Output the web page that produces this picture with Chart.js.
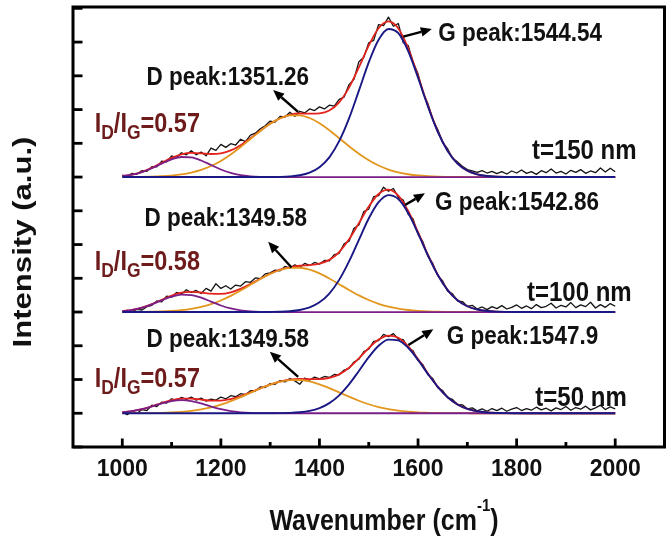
<!DOCTYPE html>
<html>
<head>
<meta charset="utf-8">
<style>
html,body{margin:0;padding:0;background:#ffffff;}
#wrap{width:666px;height:545px;position:relative;overflow:hidden;}
canvas{display:block;}
</style>
<script src="https://cdn.jsdelivr.net/npm/chart.js@4.4.1/dist/chart.umd.min.js"></script>
</head>
<body>
<div id="wrap"><canvas id="c" width="666" height="545"></canvas></div>
<script>
// ---------- data ----------
const rawWavenumbers = [
1000,1010,1020,1030,1040,1050,1060,1070,1080,1090,
1100,1110,1120,1130,1140,1150,1160,1170,1180,1190,
1200,1210,1220,1230,1240,1250,1260,1270,1280,1290,
1300,1310,1320,1330,1340,1350,1360,1370,1380,1390,
1400,1410,1420,1430,1440,1450,1460,1470,1480,1490,
1500,1510,1520,1530,1540,1550,1560,1570,1580,1590,
1600,1610,1620,1630,1640,1650,1660,1670,1680,1690,
1700,1710,1720,1730,1740,1750,1760,1770,1780,1790,
1800,1810,1820,1830,1840,1850,1860,1870,1880,1890,
1900,1910,1920,1930,1940,1950,1960,1970,1980,1990,
2000];
const fitWavenumbers = [
1000,1020,1040,1060,1080,1100,1120,1140,1160,1180,
1200,1220,1240,1260,1280,1300,1320,1340,1360,1380,
1400,1420,1440,1460,1480,1500,1520,1540,1560,1580,
1600,1620,1640,1660,1680,1700,1720,1740,1760,1780,
1800,1820,1840,1860,1880,1900,1920,1940,1960,1980,
2000];

// vertical offsets of the stacked spectra (a.u.)
const baselineOffsets = [8, 4, 1];

// measured spectra (intensity above own baseline)
const measured150 = [
.06,.03,.11,.09,.19,.17,.31,.30,.47,.45,
.63,.58,.72,.66,.78,.66,.74,.63,.86,.79,
.97,.88,.99,.95,1.12,1.05,1.24,1.30,1.43,1.52,
1.66,1.63,1.80,1.78,1.92,1.80,1.95,1.90,2.02,1.97,
2.08,2.02,2.13,2.10,2.30,2.37,2.74,2.90,3.42,3.55,
3.98,4.05,4.52,4.49,4.74,4.47,4.55,3.98,3.90,3.40,
3.06,2.50,2.18,1.70,1.41,1.02,.84,.55,.45,.32,
.22,.18,.14,.19,.12,.17,.10,.16,.09,.18,
.12,.21,.11,.16,.08,.19,.13,.24,.12,.17,
.09,.20,.14,.22,.11,.18,.13,.27,.15,.26,
.16];
const measured100 = [
.00,.05,.02,.08,.06,.16,.20,.33,.30,.47,
.44,.58,.53,.66,.58,.64,.55,.70,.62,.84,
.70,.78,.68,.80,.77,.90,.88,1.01,.99,1.13,
1.16,1.24,1.22,1.35,1.30,1.40,1.33,1.44,1.38,1.47,
1.42,1.53,1.52,1.70,1.74,2.02,2.10,2.48,2.58,2.98,
3.05,3.42,3.45,3.70,3.58,3.66,3.40,3.32,2.90,2.76,
2.30,2.08,1.65,1.44,1.08,.92,.62,.54,.33,.31,
.17,.20,.09,.15,.07,.16,.10,.19,.09,.14,
.21,.11,.18,.10,.22,.13,.17,.26,.12,.20,
.15,.28,.13,.21,.16,.29,.12,.22,.14,.25,
.17];
const measured50 = [
.03,-.04,.06,.00,.11,.08,.24,.20,.33,.30,
.43,.38,.47,.41,.48,.39,.45,.36,.42,.39,
.48,.43,.52,.49,.58,.55,.67,.66,.78,.76,
.88,.86,.97,.93,1.03,.96,.86,1.04,.98,1.07,
1.02,1.09,1.06,1.15,1.14,1.28,1.33,1.52,1.60,1.83,
1.90,2.13,2.15,2.34,2.27,2.36,2.20,2.18,1.94,1.85,
1.56,1.44,1.14,1.03,.76,.67,.46,.41,.26,.25,
.13,.16,.07,.13,.06,.14,.08,.15,.06,.12,
.17,.08,.14,.09,.18,.10,.15,.07,.16,.11,
.20,.09,.17,.12,.21,.10,.16,.24,.11,.19,
.13];

// fitted components, t = 150 nm
const lowPeak150 = [.03,.072,.148,.262,.399,.524,.595,.581,.491,.357,.224,.121,.057,.023,.008,.002,
0,0,0,0,0,0,0,0,0,0,0,0,0,0,0,0,0,0,0,0,0,0,0,0,0,0,0,0,0,0,0,0,0,0,0];
const dPeak150 = [.001,.003,.006,.012,.024,.045,.079,.133,.213,.327,
.478,.668,.889,1.128,1.366,1.578,1.738,1.827,1.831,1.751,
1.597,1.389,1.152,.912,.689,.496,.341,.223,.139,.083,
.047,.026,.013,.007,.003,.001,0,0,0,0,0,0,0,0,0,0,0,0,0,0,0];
const gPeak150 = [0,0,0,0,0,0,0,0,0,0,0,0,0,0,0,
.002,.006,.019,.052,.130,.292,.585,1.063,1.738,2.561,3.40,4.07,4.389,4.265,3.735,
2.946,2.097,1.343,.776,.403,.189,.08,.03,.01,.003,
0,0,0,0,0,0,0,0,0,0,0];
const fitSum150 = [.031,.075,.154,.274,.423,.569,.674,.714,.704,.684,
.702,.789,.946,1.151,1.374,1.582,1.744,1.846,1.883,1.881,
1.889,1.974,2.215,2.65,3.25,3.896,4.411,4.612,4.404,3.818,
2.993,2.123,1.356,.783,.406,.19,.08,.03,.01,.003,
0,0,0,0,0,0,0,0,0,0,0];

// fitted components, t = 100 nm
const lowPeak100 = [.026,.062,.128,.227,.346,.454,.516,.504,.426,.310,.194,.105,.049,.020,.007,.002,
0,0,0,0,0,0,0,0,0,0,0,0,0,0,0,0,0,0,0,0,0,0,0,0,0,0,0,0,0,0,0,0,0,0,0];
const dPeak100 = [.001,.002,.004,.009,.017,.032,.057,.095,.153,.234,
.343,.479,.637,.809,.979,1.131,1.246,1.310,1.313,1.255,
1.145,.996,.826,.654,.494,.356,.244,.160,.100,.060,
.034,.019,.009,.005,.002,.001,0,0,0,0,0,0,0,0,0,0,0,0,0,0,0];
const gPeak100 = [0,0,0,0,0,0,0,0,0,0,0,0,0,0,0,
.003,.008,.023,.059,.136,.287,.549,.953,1.50,2.141,2.772,3.255,3.466,3.348,2.933,
2.331,1.680,1.098,.651,.350,.171,.075,.030,.011,.004,
.001,0,0,0,0,0,0,0,0,0,0];
const fitSum100 = [.027,.064,.132,.236,.363,.486,.573,.599,.579,.544,
.537,.584,.686,.829,.986,1.136,1.254,1.333,1.372,1.391,
1.432,1.545,1.779,2.154,2.635,3.128,3.499,3.626,3.448,2.993,
2.365,1.699,1.107,.656,.352,.172,.075,.030,.011,.004,
.001,0,0,0,0,0,0,0,0,0,0];

// fitted components, t = 50 nm
const lowPeak50 = [.027,.061,.119,.200,.290,.362,.390,.362,.290,.200,.119,.061,.027,.010,.003,.001,
0,0,0,0,0,0,0,0,0,0,0,0,0,0,0,0,0,0,0,0,0,0,0,0,0,0,0,0,0,0,0,0,0,0,0];
const dPeak50 = [.001,.002,.003,.006,.013,.024,.043,.072,.115,.176,
.257,.359,.478,.607,.735,.849,.935,.983,.985,.942,
.859,.747,.620,.491,.371,.267,.183,.120,.075,.045,
.025,.014,.007,.004,.002,.001,0,0,0,0,0,0,0,0,0,0,0,0,0,0,0];
const gPeak50 = [0,0,0,0,0,0,0,0,0,0,0,0,0,0,0,
.001,.004,.011,.030,.071,.152,.299,.531,.857,1.253,1.663,2.001,2.183,2.161,1.940,
1.580,1.166,.781,.475,.261,.131,.059,.024,.009,.003,
.001,0,0,0,0,0,0,0,0,0,0];
const fitSum50 = [.028,.063,.122,.206,.303,.386,.433,.434,.405,.376,
.376,.420,.505,.617,.738,.851,.939,.994,1.015,1.013,
1.011,1.046,1.151,1.348,1.624,1.930,2.184,2.303,2.236,1.985,
1.605,1.180,.788,.479,.263,.132,.059,.024,.009,.003,
.001,0,0,0,0,0,0,0,0,0,0];

// tick values / labels
const xTickValues = [1000,1200,1400,1600,1800,2000];
const xMinorTickValues = [1100,1300,1500,1700,1900];
const yTickValues = [0,1,2,3,4,5,6,7,8,9,10,11,12,13];

// annotation texts
const dPeakLabels = ['D peak:1351.26','D peak:1349.58','D peak:1349.58'];
const gPeakLabels = ['G peak:1544.54','G peak:1542.86','G peak:1547.9'];
const ratioValues = ['0.57','0.58','0.57'];
const thicknessLabels = ['t=150 nm','t=100 nm','t=50 nm'];
const xTitle = 'Wavenumber (cm';
const xTitleSup = '-1';
const yTitle = 'Intensity (a.u.)';

// ---------- layout of annotations (data coordinates) ----------
const annotationLayout = [
  {d:[1049,11.0], ratio:[944,9.62], dArrow:[[1356.6,9.93],[1306,10.58]], g:[1641,12.3], gArrow:[[1570,12.16],[1628,12.39]], t:[1831,8.83]},
  {d:[1045,6.82], ratio:[944,5.53], dArrow:[[1343.4,5.32],[1296,6.08]], g:[1634.6,7.29], gArrow:[[1573.6,7.17],[1614,7.52]], t:[1821,4.62]},
  {d:[1049,3.23], ratio:[944,2.06], dArrow:[[1356.8,2.08],[1299.3,2.82]], g:[1658.4,3.32], gArrow:[[1580.4,3.02],[1631,3.49]], t:[1838,1.51]}
];

// ---------- build datasets ----------
const FONT = "'Liberation Sans', Arial, sans-serif";
const STRETCH = 1.15;
const COLORS = {measured:'#141414', sum:'#e3231c', d:'#e3961e', low:'#7a1f88', g:'#1a1884'};
function pts(xs, ys, off){ return xs.map((x,i)=>({x:x, y:ys[i]+off})); }
const groups = [
  {m:measured150, s:fitSum150, d:dPeak150, l:lowPeak150, g:gPeak150},
  {m:measured100, s:fitSum100, d:dPeak100, l:lowPeak100, g:gPeak100},
  {m:measured50,  s:fitSum50,  d:dPeak50,  l:lowPeak50,  g:gPeak50}
];
const datasets = [];
groups.forEach((gr, k)=>{
  const off = baselineOffsets[k];
  datasets.push({label:thicknessLabels[k]+' measured', data:pts(rawWavenumbers, gr.m, off), borderColor:COLORS.measured, borderWidth:1.3, tension:0, order:5});
  datasets.push({label:thicknessLabels[k]+' fit', data:pts(fitWavenumbers, gr.s, off), borderColor:COLORS.sum, borderWidth:1.8, cubicInterpolationMode:'monotone', order:4});
  datasets.push({label:thicknessLabels[k]+' D', data:pts(fitWavenumbers, gr.d, off), borderColor:COLORS.d, borderWidth:1.8, cubicInterpolationMode:'monotone', order:3});
  datasets.push({label:thicknessLabels[k]+' low', data:pts(fitWavenumbers, gr.l, off), borderColor:COLORS.low, borderWidth:1.8, cubicInterpolationMode:'monotone', order:2});
  datasets.push({label:thicknessLabels[k]+' G', data:pts(fitWavenumbers, gr.g, off), borderColor:COLORS.g, borderWidth:1.9, cubicInterpolationMode:'monotone', order:1});
});

// ---------- decorations plugin ----------
function arrow(ctx, x1, y1, x2, y2){
  const ang = Math.atan2(y2-y1, x2-x1), L = 11, W = 4.8;
  const bx = x2 - L*Math.cos(ang), by = y2 - L*Math.sin(ang);
  ctx.beginPath(); ctx.moveTo(x1,y1); ctx.lineTo(bx,by); ctx.lineWidth = 2.4; ctx.stroke();
  ctx.beginPath(); ctx.moveTo(x2,y2);
  ctx.lineTo(bx + W*Math.sin(ang), by - W*Math.cos(ang));
  ctx.lineTo(bx - W*Math.sin(ang), by + W*Math.cos(ang));
  ctx.closePath(); ctx.fill();
}
function textAt(ctx, txt, px, py, size, color){
  ctx.save();
  ctx.font = 'bold ' + size + 'px ' + FONT; ctx.fillStyle = color;
  ctx.textAlign = 'left'; ctx.textBaseline = 'alphabetic';
  ctx.translate(px, py); ctx.scale(1, STRETCH);
  ctx.fillText(txt, 0, size*0.36);
  ctx.restore();
}
function ratioAt(ctx, val, px, py){
  const main = 23.5, sub = 17.5;
  const segs = [['I',main,0],['D',sub,7],['/I',main,0],['G',sub,7],['='+val,main,0]];
  ctx.save();
  ctx.translate(px, py); ctx.scale(1, STRETCH);
  let cx = 0;
  ctx.fillStyle = '#6e1b1b'; ctx.textAlign = 'left'; ctx.textBaseline = 'alphabetic';
  segs.forEach(s=>{ ctx.font = 'bold ' + s[1] + 'px ' + FONT; ctx.fillText(s[0], cx, main*0.36 + s[2]/STRETCH); cx += ctx.measureText(s[0]).width; });
  ctx.restore();
}
const decor = {
  id:'decor',
  afterDatasetsDraw(chart){
    const ctx = chart.ctx, a = chart.chartArea, xs = chart.scales.x, ys = chart.scales.y;
    ctx.save();
    ctx.strokeStyle = '#000'; ctx.fillStyle = '#000';
    // frame
    ctx.lineWidth = 3;
    ctx.strokeRect(a.left, a.top, a.right - a.left, a.bottom - a.top);
    // ticks (inward)
    ctx.lineWidth = 2.8;
    xTickValues.forEach(v=>{ const p = xs.getPixelForValue(v); ctx.beginPath(); ctx.moveTo(p, a.bottom); ctx.lineTo(p, a.bottom - 8.5); ctx.stroke(); });
    xMinorTickValues.forEach(v=>{ const p = xs.getPixelForValue(v); ctx.beginPath(); ctx.moveTo(p, a.bottom); ctx.lineTo(p, a.bottom - 5); ctx.stroke(); });
    yTickValues.forEach(v=>{ const p = ys.getPixelForValue(v); ctx.beginPath(); ctx.moveTo(a.left, p); ctx.lineTo(a.left + 9.5, p); ctx.stroke(); });
    // annotations
    annotationLayout.forEach((L, k)=>{
      const P = (q)=>[xs.getPixelForValue(q[0]), ys.getPixelForValue(q[1])];
      let p = P(L.d); textAt(ctx, dPeakLabels[k], p[0], p[1], 22.5, '#111');
      p = P(L.g); textAt(ctx, gPeakLabels[k], p[0], p[1], 22.5, '#111');
      p = P(L.t); textAt(ctx, thicknessLabels[k], p[0], p[1], 24, '#111');
      p = P(L.ratio); ratioAt(ctx, ratioValues[k], p[0], p[1]);
      ctx.fillStyle = '#000'; ctx.strokeStyle = '#000';
      let t = P(L.dArrow[0]), h = P(L.dArrow[1]); arrow(ctx, t[0], t[1], h[0], h[1]);
      t = P(L.gArrow[0]); h = P(L.gArrow[1]); arrow(ctx, t[0], t[1], h[0], h[1]);
    });
    // x axis title with superscript
    ctx.fillStyle = '#111'; ctx.textBaseline = 'alphabetic'; ctx.textAlign = 'left';
    ctx.font = 'bold 25px ' + FONT;
    const w1 = ctx.measureText(xTitle).width, w3 = ctx.measureText(')').width;
    ctx.font = 'bold 15px ' + FONT;
    const w2 = ctx.measureText(xTitleSup).width;
    const cx = 384, total = w1 + w2 + w3;
    const sx = cx - total/2;
    ctx.save();
    ctx.translate(0, 530); ctx.scale(1, STRETCH);
    ctx.font = 'bold 25px ' + FONT; ctx.fillText(xTitle, sx, 0);
    ctx.font = 'bold 15px ' + FONT; ctx.fillText(xTitleSup, sx + w1, -19/STRETCH);
    ctx.font = 'bold 25px ' + FONT; ctx.fillText(')', sx + w1 + w2, 0);
    ctx.restore();
    // y axis title (rotated)
    ctx.save();
    ctx.translate(22, 242); ctx.rotate(-Math.PI/2); ctx.scale(1.22, 1);
    ctx.textAlign = 'center'; ctx.font = 'bold 25.5px ' + FONT;
    ctx.fillText(yTitle, 0, 25.5*0.36);
    ctx.restore();
    ctx.restore();
  }
};

new Chart(document.getElementById('c'), {
  type:'line',
  data:{datasets:datasets},
  options:{
    responsive:false, animation:false, devicePixelRatio:1,
    layout:{padding:{top:7, right:1.5, left:0, bottom:0}},
    plugins:{legend:{display:false}, tooltip:{enabled:false}, title:{display:false}},
    elements:{point:{radius:0, hoverRadius:0}, line:{borderJoinStyle:'round', fill:false}},
    scales:{
      x:{type:'linear', min:900, max:2100,
        afterFit(s){ s.height = 98; },
        afterBuildTicks(s){ s.ticks = xTickValues.map(v=>({value:v})); },
        grid:{display:false, drawTicks:false}, border:{display:false},
        ticks:{autoSkip:false, maxRotation:0, padding:9, color:'#111',
          font:{family:FONT, weight:'bold', size:23},
          callback:(v)=>String(v)}
      },
      y:{type:'linear', min:0, max:13.04,
        afterFit(s){ s.width = 73; },
        grid:{display:false, drawTicks:false}, border:{display:false},
        ticks:{display:false}
      }
    }
  },
  plugins:[decor]
});
</script>
</body>
</html>
